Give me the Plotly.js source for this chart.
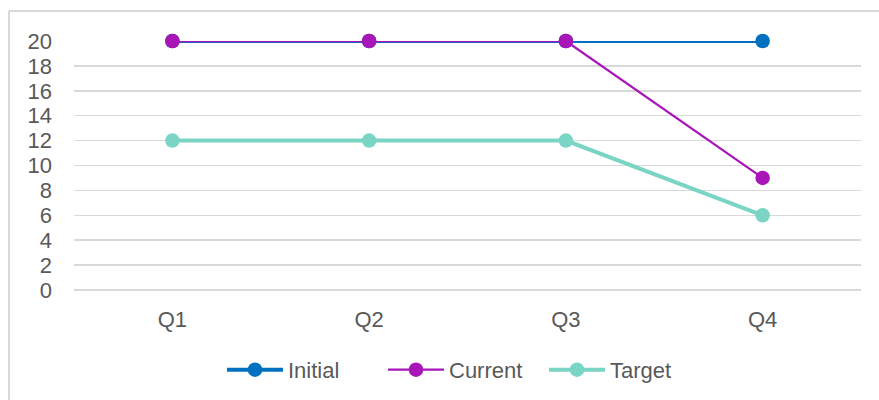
<!DOCTYPE html>
<html>
<head>
<meta charset="utf-8">
<script src="https://cdn.plot.ly/plotly-3.0.1.min.js"></script>
<style>
  html, body { margin: 0; padding: 0; background: #fff; }
  #chart { width: 879px; height: 400px; }
</style>
</head>
<body>
<div id="chart"></div>
<script>
const quarters = ['Q1', 'Q2', 'Q3', 'Q4'];
const initialValues = [20, 20, 20, 20];
const currentValues = [20, 20, 20, 9];
const targetValues = [12, 12, 12, 6];
const yTicks = [0, 2, 4, 6, 8, 10, 12, 14, 16, 18, 20];

const textColor = '#595959';
const gridColor = '#d9d9d9';

const traces = [
  {
    name: 'Initial', x: quarters, y: initialValues, type: 'scatter', mode: 'lines+markers',
    line: { color: '#0070C0', width: 4 }, marker: { color: '#0070C0', size: 14.5 }, cliponaxis: false
  },
  {
    name: 'Current', x: quarters, y: currentValues, type: 'scatter', mode: 'lines+markers',
    line: { color: '#A916B8', width: 2.25 }, marker: { color: '#A916B8', size: 14.5 }, cliponaxis: false
  },
  {
    name: 'Target', x: quarters, y: targetValues, type: 'scatter', mode: 'lines+markers',
    line: { color: '#7AD5C5', width: 4 }, marker: { color: '#7AD5C5', size: 14.5 }, cliponaxis: false
  }
];

// chart frame: left and top edges only
const frameX = (9 - 74) / 787;
const frameY = 1 + (41 - 11) / 249;

const layout = {
  width: 879, height: 400,
  margin: { l: 74, r: 18, t: 41, b: 110, autoexpand: false },
  paper_bgcolor: '#ffffff', plot_bgcolor: '#ffffff',
  font: { family: 'Liberation Sans, Arial, sans-serif', size: 22, color: textColor },
  showlegend: true,
  legend: {
    orientation: 'h', x: (222 - 74) / 787, xanchor: 'left', y: -0.321, yanchor: 'middle',
    font: { size: 22, color: textColor }, itemclick: false, traceorder: 'normal',
    itemwidth: 56, entrywidth: 90, entrywidthmode: 'pixels'
  },
  xaxis: {
    type: 'category', range: [-0.5, 3.5], showgrid: false, zeroline: false,
    showline: false, ticks: '', ticklabelstandoff: 14, fixedrange: true
  },
  yaxis: {
    range: [0, 20], tickvals: yTicks, ticktext: yTicks.map(String),
    showgrid: true, gridcolor: gridColor, gridwidth: 1.5,
    zeroline: true, zerolinecolor: gridColor, zerolinewidth: 1.5,
    showline: false, ticks: '', ticklabelstandoff: 21, fixedrange: true
  },
  shapes: [
    { type: 'line', xref: 'paper', yref: 'paper',
      x0: frameX, x1: frameX, y0: frameY, y1: -(420 - 290) / 249,
      line: { color: gridColor, width: 2 } },
    { type: 'line', xref: 'paper', yref: 'paper',
      x0: frameX, x1: (900 - 74) / 787, y0: frameY, y1: frameY,
      line: { color: gridColor, width: 2 } }
  ]
};

Plotly.newPlot('chart', traces, layout, { displayModeBar: false, staticPlot: true });
</script>
</body>
</html>
